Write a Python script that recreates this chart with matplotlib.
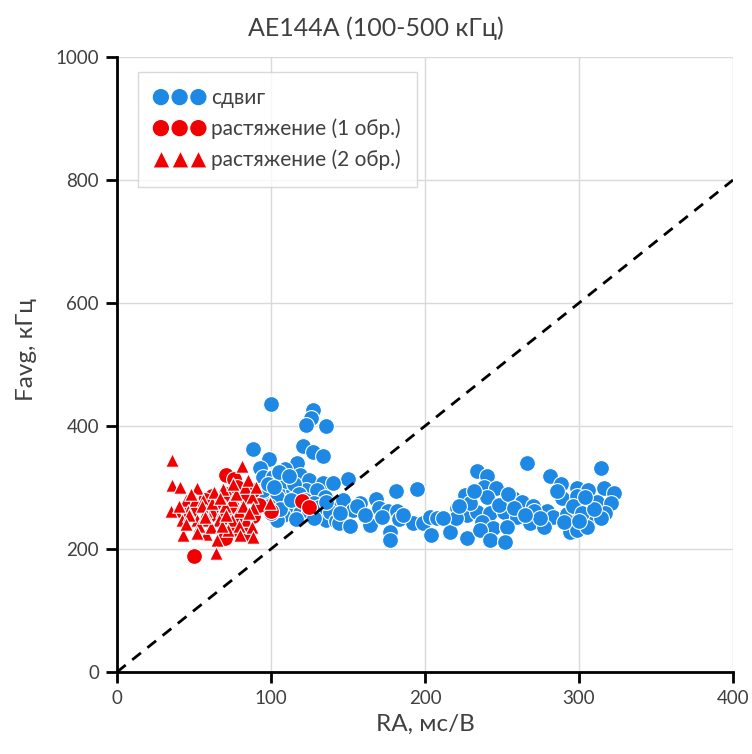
import matplotlib.pyplot as plt

# сдвиг
shear_x = [100, 127, 126, 123, 136, 88, 121, 127, 134,
           99, 93, 117, 109, 119, 95, 101, 125, 134, 107, 114, 97, 104, 123, 130, 135,
           112, 108, 104, 119, 136, 95,
           110, 115, 105, 112, 98, 102, 118, 122, 128, 99, 106, 113, 125, 131, 100, 140,
           138, 142, 128, 116,
           150, 140, 147, 136, 158, 168, 181, 195, 153, 170, 176, 182, 144, 151, 164,
           172, 183, 192, 177, 177, 199, 203, 208, 204, 216, 221, 226, 234, 240, 238,
           246, 254, 258, 227, 234, 242, 251, 220, 237, 244, 253, 227, 236, 242, 252,
           260, 257,
           229, 222, 240, 232, 248, 212, 156, 161, 145, 186,
           266, 314, 281, 288, 254, 263, 270, 258, 289, 299, 306, 316, 323, 299, 312,
           321, 279, 283, 271, 292, 299, 308, 317, 253, 268, 277, 294, 299, 305, 314,
           252, 290,
           296, 302, 310, 300, 286, 304, 275, 265]
shear_y = [436, 426, 413, 401, 400, 362, 367, 358, 351,
           346, 332, 340, 330, 320, 317, 317, 312, 307, 301, 296, 291, 285, 296, 296, 285,
           271, 255, 247, 258, 247, 296,
           310, 305, 325, 318, 305, 300, 290, 280, 275, 270, 265, 280, 262, 268, 258, 270,
           260, 245, 250, 248,
           313, 307, 280, 277, 275, 281, 294, 297, 263, 266, 262, 262, 242, 237, 239,
           252, 249, 242, 228, 215, 242, 252, 250, 223, 228, 266, 288, 326, 318, 301,
           299, 288, 266, 255, 260, 258, 260, 250, 244, 234, 236, 218, 231, 215, 211,
           252, 283,
           275, 270, 285, 295, 272, 250, 270, 255, 258, 255,
           340, 332, 318, 306, 289, 277, 270, 266, 283, 299, 296, 299, 291, 286, 277,
           274, 261, 252, 261, 257, 265, 250, 258, 236, 242, 236, 228, 231, 236, 250,
           212, 244,
           270, 258, 265, 245, 295, 285, 250, 255]

# растяжение (1 обр.)
ten1_x = [71, 76, 50, 120, 125, 100, 88, 62, 78, 70, 88, 84, 57, 75, 84, 65,
          80, 70, 92, 60, 85, 48, 72, 78]
ten1_y = [320, 314, 189, 278, 268, 261, 296, 286, 231, 218, 253, 285, 280, 267, 236, 269,
          250, 245, 272, 255, 225, 262, 290, 300]

# растяжение (2 обр.)
ten2_x = [36, 81, 35.5, 41, 52, 68.6, 83, 45, 50.6, 56, 74.5, 87.5, 38, 46, 58, 68, 79,
          88.5, 99.4, 42, 52, 59, 66, 74.5, 84, 43, 58, 64.7, 72.3, 87.5, 88.5, 64,
          35, 40, 48, 55, 62, 70, 77, 82, 86, 53, 61, 68, 79, 47, 71, 57, 63, 75, 85,
          45, 52, 90, 67, 80]
ten2_y = [344, 335, 304, 301, 299, 297, 301, 280, 280, 280, 280, 285, 261, 261, 261, 261,
          261, 266, 274, 247, 247, 247, 247, 247, 247, 222, 224, 215, 231, 236, 220, 194,
          262, 270, 290, 270, 275, 270, 290, 270, 258, 238, 235, 238, 238, 255, 256, 252,
          292, 305, 312, 240, 226, 300, 283, 222]

line_x = [0, 400]
line_y = [0, 800]

blue = '#1E88E5'
red = '#F00000'
txt = '#404040'
plt.rcParams['font.family'] = ['Lato', 'DejaVu Sans']

fig = plt.figure(figsize=(7.52, 7.54), dpi=100)
ax = fig.add_axes([0.1556, 0.1088, 0.8191, 0.8156])

ax.scatter(shear_x, shear_y, s=130, c=blue, edgecolors='white', linewidths=0.8,
           label='сдвиг', zorder=3)
ax.scatter(ten1_x, ten1_y, s=130, c=red, edgecolors='white', linewidths=0.8,
           label='растяжение (1 обр.)', zorder=4)
ax.scatter(ten2_x, ten2_y, s=95, c=red, marker='^', edgecolors='white', linewidths=0.8,
           label='растяжение (2 обр.)', zorder=5)
ax.plot(line_x, line_y, color='black', lw=2, ls=(0, (4, 3)), zorder=6)

ax.set_xlim(0, 400)
ax.set_ylim(0, 1000)
ax.set_xticks([0, 100, 200, 300, 400])
ax.set_yticks([0, 200, 400, 600, 800, 1000])
ax.grid(True, color='#d9d9d9', lw=1, zorder=0)
ax.set_axisbelow(True)
for s in ['top', 'right']:
    ax.spines[s].set_visible(False)
for s in ['left', 'bottom']:
    ax.spines[s].set_linewidth(2)
    ax.spines[s].set_color('black')
ax.tick_params(direction='out', length=8, width=2, labelsize=13.5, colors='black',
               labelcolor=txt, pad=5)

ax.set_xlabel('RA, мс/В', fontsize=17.5, color=txt, labelpad=5)
ax.set_ylabel('Favg, кГц', fontsize=17.5, color=txt)
ax.yaxis.set_label_coords(-0.13, 0.524)
fig.text(0.5, 1 - 28 / 754, 'AE144A (100-500 кГц)', fontsize=18, color=txt,
         ha='center', va='center')

leg = ax.legend(loc='upper left', bbox_to_anchor=(0.034, 0.976), borderaxespad=0,
                scatterpoints=3, scatteryoffsets=[0.5], fontsize=15, frameon=True,
                fancybox=False, edgecolor='#d0d0d0', handlelength=2.4,
                handletextpad=0.3, borderpad=0.8, labelspacing=0.5, markerscale=1.1)
leg.get_frame().set_linewidth(1)
leg.legend_handles[2].set_sizes([150])
for t in leg.get_texts():
    t.set_color(txt)

fig.savefig('out.png', dpi=100)
